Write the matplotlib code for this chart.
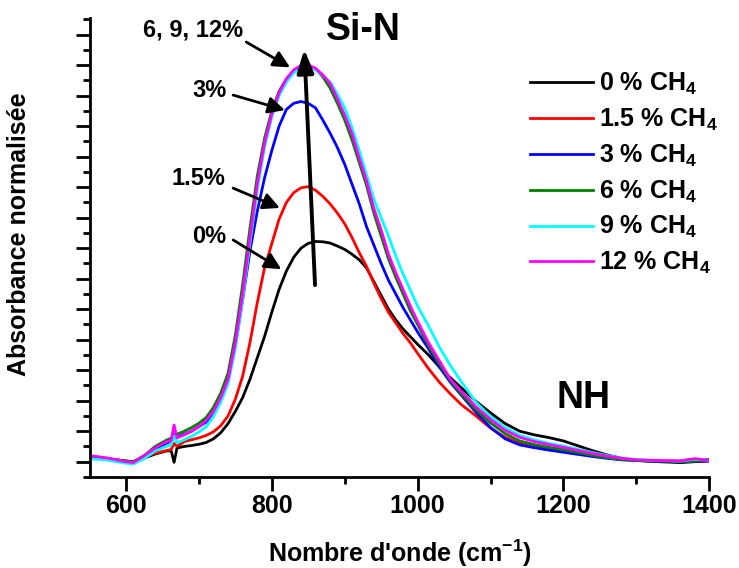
import matplotlib
matplotlib.use("Agg")
import matplotlib.pyplot as plt
from matplotlib.ticker import MultipleLocator

plt.rcParams['font.family'] = ['Liberation Sans', 'DejaVu Sans']
plt.rcParams['font.weight'] = 'bold'
plt.rcParams['mathtext.fontset'] = 'custom'
plt.rcParams['mathtext.rm'] = 'Liberation Sans:bold'
plt.rcParams['mathtext.it'] = 'Liberation Sans:bold'
plt.rcParams['mathtext.bf'] = 'Liberation Sans:bold'
plt.rcParams['mathtext.default'] = 'rm'

# ---- data ----
wavenumber = [550, 575, 600, 610, 625, 640, 655, 662, 666, 670,
              680, 690, 700, 710, 720, 730, 740, 750, 760, 770,
              780, 790, 800, 810, 820, 830, 840, 850, 860, 870,
              880, 890, 900, 910, 920, 930, 940, 950, 960, 970,
              980, 990, 1000, 1015, 1030, 1045, 1060, 1080, 1100, 1120,
              1140, 1160, 1180, 1200, 1220, 1240, 1260, 1280, 1300, 1330,
              1360, 1380, 1400]

abs_0 = [0.016, 0.010, 0.002, 0.000, 0.012, 0.025, 0.035, 0.036, -0.002, 0.045,
         0.050, 0.053, 0.057, 0.063, 0.075, 0.095, 0.125, 0.165, 0.210, 0.270,
         0.340, 0.410, 0.490, 0.565, 0.625, 0.670, 0.700, 0.716, 0.722, 0.721,
         0.717, 0.707, 0.696, 0.680, 0.662, 0.635, 0.590, 0.545, 0.500, 0.465,
         0.435, 0.410, 0.385, 0.350, 0.310, 0.275, 0.242, 0.198, 0.160, 0.125,
         0.100, 0.088, 0.079, 0.068, 0.052, 0.036, 0.022, 0.011, 0.004, 0.000,
         -0.003, 0.000, 0.002]

abs_1_5 = [0.018, 0.010, 0.002, 0.000, 0.015, 0.028, 0.036, 0.040, 0.060, 0.050,
           0.066, 0.072, 0.078, 0.086, 0.098, 0.118, 0.150, 0.205, 0.280, 0.390,
           0.520, 0.635, 0.715, 0.795, 0.850, 0.882, 0.898, 0.902, 0.890, 0.870,
           0.845, 0.815, 0.780, 0.735, 0.685, 0.640, 0.585, 0.535, 0.490, 0.455,
           0.420, 0.390, 0.355, 0.305, 0.260, 0.222, 0.187, 0.150, 0.110, 0.080,
           0.061, 0.051, 0.045, 0.038, 0.030, 0.022, 0.014, 0.008, 0.005, 0.002,
           0.000, 0.002, 0.003]

abs_3 = [0.012, 0.008, 0.000, -0.002, 0.015, 0.040, 0.060, 0.068, 0.090, 0.080,
         0.090, 0.100, 0.115, 0.130, 0.155, 0.205, 0.280, 0.380, 0.530, 0.690,
         0.820, 0.930, 1.020, 1.100, 1.155, 1.175, 1.181, 1.175, 1.160, 1.120,
         1.077, 1.030, 0.975, 0.910, 0.845, 0.770, 0.710, 0.650, 0.595, 0.550,
         0.505, 0.465, 0.425, 0.370, 0.310, 0.260, 0.218, 0.162, 0.112, 0.075,
         0.055, 0.046, 0.038, 0.031, 0.024, 0.017, 0.011, 0.006, 0.004, 0.001,
         0.000, 0.002, 0.003]

abs_6 = [0.015, 0.010, 0.002, 0.000, 0.020, 0.050, 0.070, 0.077, 0.085, 0.090,
         0.100, 0.112, 0.126, 0.145, 0.178, 0.225, 0.290, 0.415, 0.580, 0.765,
         0.935, 1.060, 1.150, 1.215, 1.255, 1.280, 1.293, 1.297, 1.288, 1.262,
         1.225, 1.175, 1.120, 1.055, 0.980, 0.905, 0.815, 0.740, 0.665, 0.605,
         0.550, 0.495, 0.450, 0.380, 0.320, 0.265, 0.222, 0.170, 0.127, 0.092,
         0.068, 0.056, 0.047, 0.039, 0.030, 0.021, 0.013, 0.007, 0.004, 0.002,
         0.001, 0.002, 0.008]

abs_9 = [0.010, 0.005, -0.005, -0.008, 0.010, 0.035, 0.050, 0.055, 0.085, 0.062,
         0.072, 0.083, 0.097, 0.115, 0.148, 0.195, 0.255, 0.370, 0.530, 0.715,
         0.890, 1.030, 1.130, 1.200, 1.245, 1.275, 1.288, 1.290, 1.285, 1.267,
         1.245, 1.205, 1.160, 1.095, 1.020, 0.940, 0.860, 0.800, 0.740, 0.675,
         0.615, 0.563, 0.510, 0.445, 0.375, 0.315, 0.262, 0.195, 0.148, 0.112,
         0.086, 0.072, 0.060, 0.051, 0.041, 0.030, 0.020, 0.012, 0.007, 0.004,
         0.002, 0.008, 0.004]

abs_12 = [0.020, 0.012, 0.000, -0.003, 0.020, 0.045, 0.065, 0.070, 0.120, 0.078,
          0.088, 0.100, 0.115, 0.135, 0.165, 0.210, 0.270, 0.390, 0.550, 0.735,
          0.910, 1.045, 1.140, 1.210, 1.255, 1.285, 1.299, 1.301, 1.290, 1.268,
          1.240, 1.190, 1.135, 1.075, 0.995, 0.920, 0.830, 0.760, 0.680, 0.620,
          0.565, 0.510, 0.460, 0.390, 0.330, 0.270, 0.230, 0.180, 0.138, 0.103,
          0.080, 0.066, 0.056, 0.047, 0.037, 0.027, 0.018, 0.011, 0.006, 0.004,
          0.003, 0.010, 0.004]

series = [abs_0, abs_1_5, abs_3, abs_6, abs_9, abs_12]
labels = ['0 % CH$_4$', '1.5 % CH$_4$', '3 % CH$_4$', '6 % CH$_4$', '9 % CH$_4$', '12 % CH$_4$']
colors = ['#000000', '#ff0000', '#0000ff', '#008000', '#00ffff', '#ff00ff']

xticks = [600, 800, 1000, 1200, 1400]

# ---- figure ----
fig = plt.figure(figsize=(7.39, 5.68), dpi=100)
ax = fig.add_axes([89.5 / 739, (568 - 477) / 568, (709.3 - 89.5) / 739, (477 - 18) / 568])

for y, lab, c in zip(series, labels, colors):
    ax.plot(wavenumber, y, color=c, lw=2, label=lab)

ax.set_xlim(550, 1400)
ax.set_ylim(-0.0502, 1.4548)

for s in ['top', 'right']:
    ax.spines[s].set_visible(False)
for s in ['left', 'bottom']:
    ax.spines[s].set_linewidth(2)

ax.set_xticks(xticks)
ax.xaxis.set_minor_locator(MultipleLocator(100))
ax.yaxis.set_major_locator(MultipleLocator(0.1))
ax.yaxis.set_minor_locator(MultipleLocator(0.05))
ax.set_yticklabels([])
ax.tick_params(axis='both', which='major', direction='out', length=10, width=2, labelsize=18, pad=2)
ax.tick_params(axis='both', which='minor', direction='out', length=5, width=2)
for t in ax.get_xticklabels():
    t.set_fontweight('bold')

ax.set_xlabel("Nombre d'onde (cm$^{-1}$)", fontsize=18, fontweight='bold')
ax.xaxis.set_label_coords(0.5, -0.132)
ax.set_ylabel('Absorbance normalisée', fontsize=18, fontweight='bold')
ax.yaxis.set_label_coords(-0.095, 0.53)

leg = ax.legend(loc='upper left', bbox_to_anchor=((530 - 89.5) / 619.8, (477 - 71) / 459),
                frameon=False, fontsize=18, handlelength=2.5, handletextpad=0.25,
                labelspacing=0.385, borderaxespad=0, borderpad=0)
for t in leg.get_texts():
    t.set_fontweight('bold')

# annotations
ax.text(926, 1.415, 'Si-N', fontsize=27, fontweight='bold', ha='center', va='center')
ax.text(1228, 0.21, 'NH', fontsize=27, fontweight='bold', ha='center', va='center')

arrow = dict(arrowstyle='-|>,head_length=0.5,head_width=0.25', color='black', lw=2,
             mutation_scale=20, shrinkA=0, shrinkB=0)
notes = [('6, 9, 12%', (692, 1.415), (765, 1.376), (825, 1.293)),
         ('3%', (714, 1.217), (747, 1.202), (818, 1.153)),
         ('1.5%', (700, 0.930), (747, 0.897), (811, 0.832)),
         ('0%', (714, 0.740), (747, 0.727), (813, 0.631))]
for txt, tpos, tail, tip in notes:
    ax.text(tpos[0], tpos[1], txt, fontsize=17, fontweight='bold', ha='center', va='center')
    ax.annotate('', xy=tip, xytext=tail, arrowprops=arrow)

ax.annotate('', xy=(844.6, 1.352), xytext=(859.3, 0.579),
            arrowprops=dict(arrowstyle='-|>,head_length=0.7,head_width=0.25', color='black',
                            lw=2.8, mutation_scale=20, shrinkA=0, shrinkB=0))

fig.savefig('out.png', dpi=100)
